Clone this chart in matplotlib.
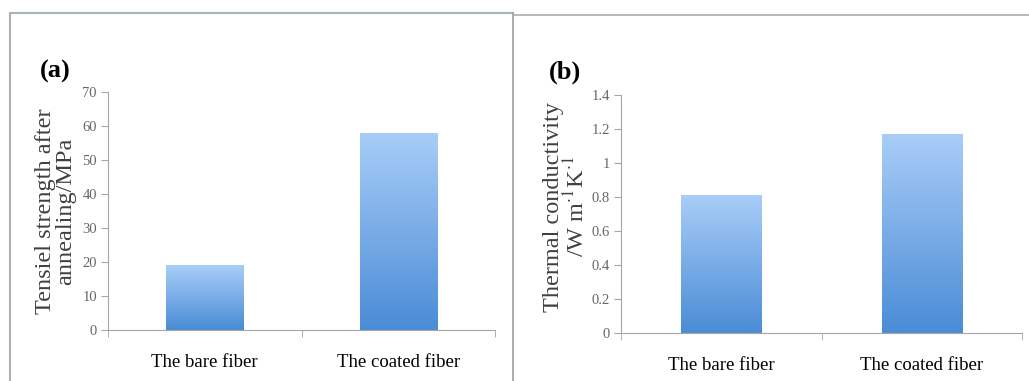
import numpy as np
import matplotlib.pyplot as plt
from matplotlib.lines import Line2D

# datos
categories = ["The bare fiber", "The coated fiber"]
tensile = [19, 58]
conductivity = [0.81, 1.17]

plt.rcParams['font.family'] = ['Liberation Serif', 'DejaVu Serif']
plt.rcParams['mathtext.fontset'] = 'stix'

fig = plt.figure(figsize=(10.29, 3.81), dpi=100)

# marcos de los paneles
fig.add_artist(Line2D([10/1029, 10/1029], [0, 1 - 13/381], color="#a0a0a0", lw=1.2))
fig.add_artist(Line2D([10/1029, 513/1029], [1 - 13/381, 1 - 13/381], color="#a8b8a8", lw=1.5))
fig.add_artist(Line2D([513/1029, 513/1029], [0, 1 - 13/381], color="#a0a0a0", lw=1.2))
fig.add_artist(Line2D([513/1029, 1], [1 - 15/381, 1 - 15/381], color="#a8b0a8", lw=1.2))

# gradiente azul (claro arriba, oscuro abajo)
grad = np.linspace(0, 1, 256).reshape(-1, 1)
cmap = plt.matplotlib.colors.LinearSegmentedColormap.from_list("g", ["#4a8cd6", "#a9cdf8"])


def panel(rect, values, ylim, yticks, yticklabels, ylabel, labelpos, tag, tagpos):
    ax = fig.add_axes(rect)
    x = np.arange(len(categories))
    bars = ax.bar(x, values, width=0.4, color="none", edgecolor="none")
    for b in bars:
        x0, y0 = b.get_x(), b.get_y()
        w, h = b.get_width(), b.get_height()
        im = ax.imshow(grad, extent=[x0, x0 + w, y0, y0 + h], origin="lower",
                       cmap=cmap, aspect="auto", zorder=2)
        im.set_clip_path(b)
    ax.set_xlim(-0.5, 1.5)
    ax.set_ylim(*ylim)
    ax.set_yticks(yticks)
    ax.set_yticklabels(yticklabels, fontsize=10.5, color="#666666")
    ax.set_xticks(x)
    ax.set_xticklabels(categories, fontsize=13.5)
    ax.set_xticks([-0.5, 0.5, 1.5], minor=True)
    ax.tick_params(axis="x", which="major", length=0, pad=17)
    ax.tick_params(axis="x", which="minor", length=5, color="#a6a6a6", direction="out")
    ax.tick_params(axis="y", length=5, color="#a6a6a6", direction="out", pad=3)
    for s in ["top", "right"]:
        ax.spines[s].set_visible(False)
    for s in ["left", "bottom"]:
        ax.spines[s].set_color("#a6a6a6")
    ax.set_ylabel(ylabel, fontsize=17.5, linespacing=0.95, color="#404040")
    ax.yaxis.set_label_coords(*labelpos)
    fig.text(tagpos[0], tagpos[1], tag, fontsize=19, fontweight="bold",
             ha="left", va="center")
    return ax


panel([108/1029, 1 - 330/381, 387/1029, 238/381], tensile, (0, 70),
      np.arange(0, 71, 10), [str(v) for v in range(0, 71, 10)],
      "Tensiel strength after\nannealing/MPa", (-0.083, 0.5), "(a)", (40/1029, 1 - 71/381))

panel([621/1029, 1 - 333/381, 401/1029, 238/381], conductivity, (0, 1.4),
      np.arange(0, 1.41, 0.2), ["0", "0.2", "0.4", "0.6", "0.8", "1", "1.2", "1.4"],
      "Thermal conductivity\n/W m$^{\\cdot1}$K$^{\\cdot1}$", (-0.08, 0.53), "(b)", (549/1029, 1 - 72/381))

plt.savefig("out.png", dpi=100)
